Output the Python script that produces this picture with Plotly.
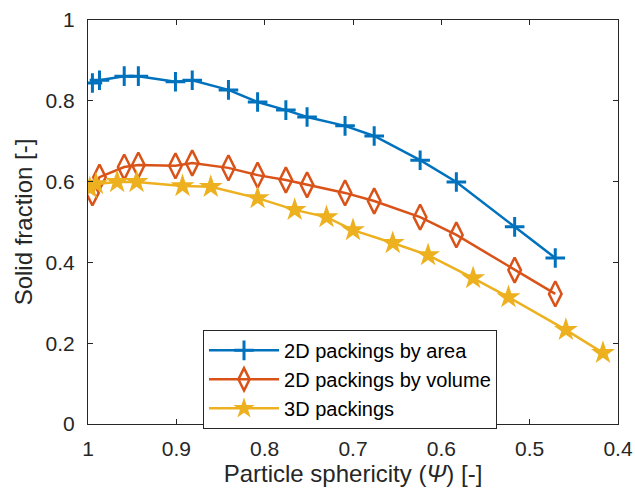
import plotly.graph_objects as go

sphericity_2d = [0.995, 0.987, 0.959, 0.943, 0.901, 0.882, 0.841, 0.808, 0.776, 0.752,
                 0.709, 0.676, 0.624, 0.583, 0.517, 0.471]
area_2d = [0.844, 0.851, 0.861, 0.861, 0.847, 0.851, 0.827, 0.797, 0.777, 0.760,
           0.738, 0.713, 0.653, 0.599, 0.488, 0.411]
volume_2d = [0.572, 0.611, 0.636, 0.641, 0.639, 0.646, 0.634, 0.616, 0.604, 0.592,
             0.572, 0.552, 0.512, 0.468, 0.381, 0.322]

sphericity_3d = [0.998, 0.991, 0.967, 0.945, 0.893, 0.861, 0.808, 0.766, 0.730, 0.700,
                 0.655, 0.615, 0.564, 0.524, 0.459, 0.417]
packing_3d = [0.584, 0.594, 0.599, 0.599, 0.589, 0.587, 0.559, 0.530, 0.512, 0.480,
              0.448, 0.418, 0.361, 0.314, 0.233, 0.176]

x_ticks = [1, 0.9, 0.8, 0.7, 0.6, 0.5, 0.4]
x_tick_labels = ["1", "0.9", "0.8", "0.7", "0.6", "0.5", "0.4"]
y_ticks = [0, 0.2, 0.4, 0.6, 0.8, 1]
y_tick_labels = ["0", "0.2", "0.4", "0.6", "0.8", "1"]

blue = "#0072BD"
orange = "#D95319"
yellow = "#EDB120"
axc = "#262626"

fig = go.Figure()
fig.add_trace(go.Scatter(
    x=sphericity_2d, y=area_2d, mode="lines+markers", name="2D packings by area",
    line=dict(color=blue, width=2.5),
    marker=dict(symbol="cross-thin", size=14, color=blue, line=dict(color=blue, width=3)),
))
fig.add_trace(go.Scatter(
    x=sphericity_2d, y=volume_2d, mode="lines+markers", name="2D packings by volume",
    line=dict(color=orange, width=2.5),
    marker=dict(symbol="diamond-tall-open", size=18, color=orange, line=dict(color=orange, width=2.5)),
))
fig.add_trace(go.Scatter(
    x=sphericity_3d, y=packing_3d, mode="lines+markers", name="3D packings",
    line=dict(color=yellow, width=2.5),
    marker=dict(symbol="star", size=18, color=yellow, line=dict(color=yellow, width=0)),
))

font_family = "Liberation Sans, Arial, sans-serif"
fig.update_layout(
    width=635, height=496,
    margin=dict(l=88, r=17, t=20, b=72, autoexpand=False),
    paper_bgcolor="white", plot_bgcolor="white",
    font=dict(family=font_family, color=axc, size=21),
    showlegend=True,
    legend=dict(
        x=0.217, y=0.233, xanchor="left", yanchor="top",
        bordercolor=axc, borderwidth=1, bgcolor="white",
        font=dict(size=20, color="black", family=font_family),
        itemwidth=70, tracegroupgap=0,
    ),
)
fig.update_xaxes(
    range=[1, 0.4], tickvals=x_ticks, ticktext=x_tick_labels, automargin=False,
    ticks="inside", ticklen=5, tickcolor=axc, showline=True, linecolor=axc, linewidth=1,
    mirror="ticks", showgrid=False, zeroline=False,
    title=dict(text="Particle sphericity (<i>Ψ</i>) [-]", font=dict(size=24, color=axc), standoff=4),
    tickfont=dict(size=21, color=axc), ticklabelstandoff=6,
)
fig.update_yaxes(
    range=[0, 1], tickvals=y_ticks, ticktext=y_tick_labels, automargin=False,
    ticks="inside", ticklen=5, tickcolor=axc, showline=True, linecolor=axc, linewidth=1,
    mirror="ticks", showgrid=False, zeroline=False,
    title=dict(text="Solid fraction [-]", font=dict(size=24, color=axc), standoff=6),
    tickfont=dict(size=21, color=axc), ticklabelstandoff=8,
)
fig.write_html("out.html")
